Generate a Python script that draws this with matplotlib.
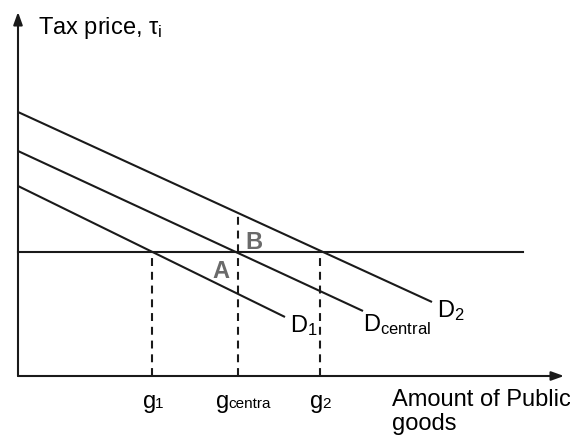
import matplotlib
matplotlib.use("Agg")
import matplotlib.pyplot as plt

plt.rcParams['font.family'] = ['Liberation Sans', 'DejaVu Sans']
plt.rcParams['mathtext.fontset'] = 'custom'
plt.rcParams['mathtext.rm'] = 'Liberation Sans'
plt.rcParams['mathtext.it'] = 'Liberation Sans'
plt.rcParams['mathtext.bf'] = 'Liberation Sans:bold'

# Demand curves (x = amount of public good, y = tax price), endpoints
d1_x = [0, 267]
d1_y = [190, 59]
dc_x = [0, 345]
dc_y = [225, 65]
d2_x = [0, 414]
d2_y = [264, 74]
# Tax price level
price_level = 124
price_x_end = 505
# Quantities
g_values = [134, 220, 302]
g_tops = [124, 164, 124]
g_subs = ['1', 'centra', '2']

fig = plt.figure(figsize=(5.70, 4.36), dpi=100)
ax = fig.add_axes([0, 0, 1, 1])
ax.set_xlim(-18, 552)
ax.set_ylim(-60, 376)
ax.axis('off')

lc = '#1a1a1a'
lw = 1.5

# axes arrows
ax.annotate('', xy=(0, 364), xytext=(0, 0),
            arrowprops=dict(arrowstyle='-|>,head_length=0.75,head_width=0.27', color=lc, lw=lw, shrinkA=0, shrinkB=0))
ax.annotate('', xy=(546, 0), xytext=(0, 0),
            arrowprops=dict(arrowstyle='-|>,head_length=0.75,head_width=0.27', color=lc, lw=lw, shrinkA=0, shrinkB=0))

# demand lines
for xs, ys in [(d1_x, d1_y), (dc_x, dc_y), (d2_x, d2_y)]:
    ax.plot(xs, ys, color=lc, lw=lw, solid_capstyle='butt')

# price line
ax.plot([0, price_x_end], [price_level, price_level], color=lc, lw=lw)

# dashed verticals
for gx, top in zip(g_values, g_tops):
    ax.plot([gx, gx], [0, top], color=lc, lw=lw, ls=(0, (3.8, 2.8)))

fs = 17
# labels
ax.text(20, 342, r'Tax price, τ$_{\mathrm{i}}$', fontsize=fs, ha='left', va='baseline')
ax.text(272, 44, r'D$_{\mathrm{1}}$', fontsize=fs, ha='left', va='baseline')
ax.text(345, 45, r'D$_{\mathrm{central}}$', fontsize=fs, ha='left', va='baseline')
ax.text(419, 59, r'D$_{\mathrm{2}}$', fontsize=fs, ha='left', va='baseline')
ax.text(194, 98, 'A', fontsize=fs, fontweight='bold', color='#6a6a6a', ha='left', va='baseline')
ax.text(227, 127, 'B', fontsize=fs, fontweight='bold', color='#6a6a6a', ha='left', va='baseline')

g_offsets = [-9, -22, -10]
for gx, sub, off in zip(g_values, g_subs, g_offsets):
    ax.text(gx + off, -32, 'g', fontsize=fs, ha='left', va='baseline')
    ax.text(gx + off + 12, -32, sub, fontsize=11, ha='left', va='baseline')

ax.text(374, -30, 'Amount of Public', fontsize=fs, ha='left', va='baseline')
ax.text(374, -54, 'goods', fontsize=fs, ha='left', va='baseline')

fig.savefig('out.png', dpi=100)
